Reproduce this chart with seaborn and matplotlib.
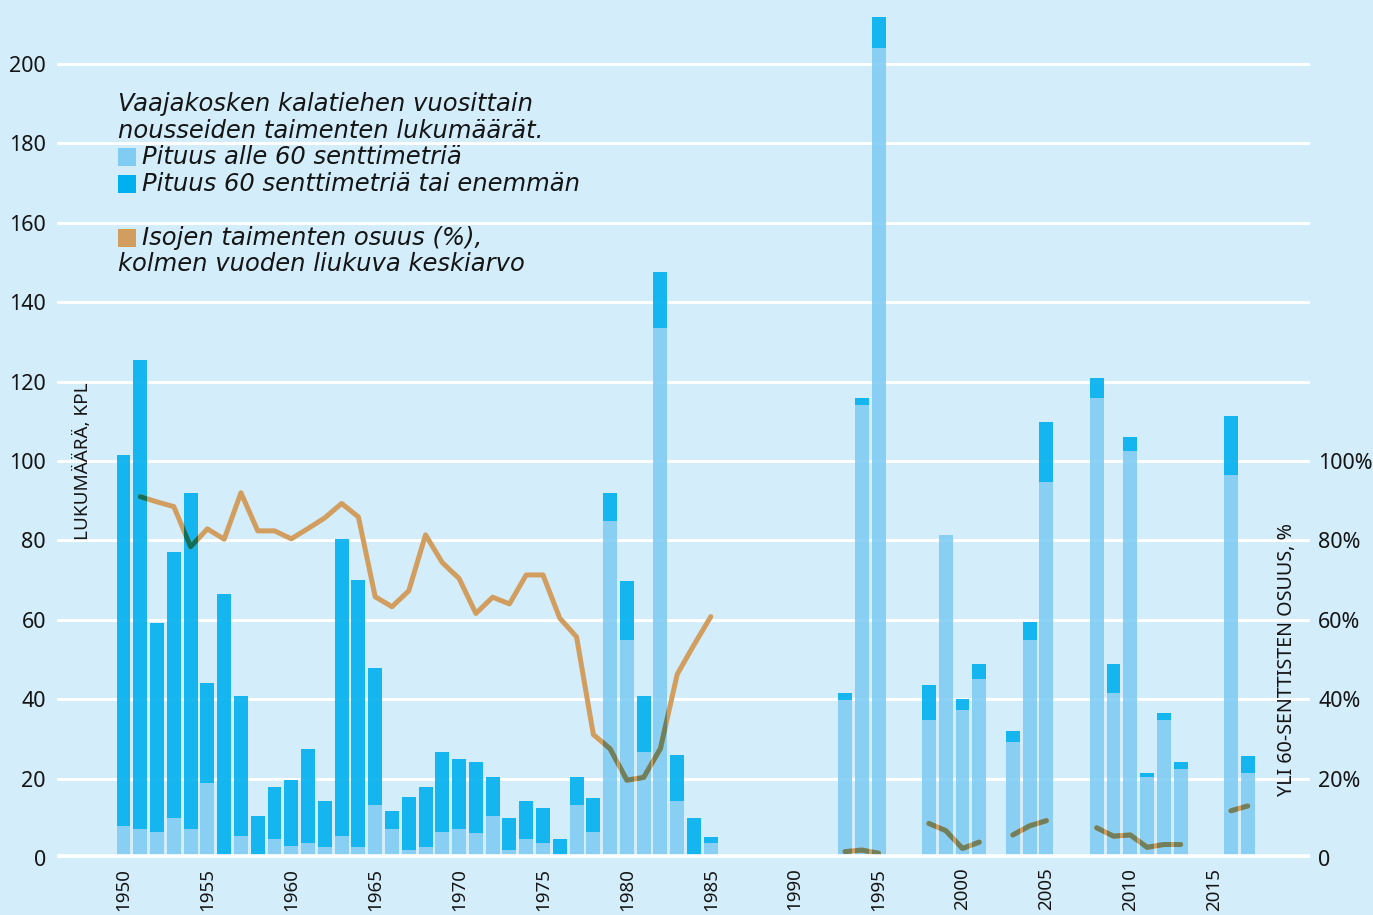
import matplotlib
matplotlib.use("Agg")
import matplotlib.pyplot as plt
import seaborn as sns
import pandas as pd
import numpy as np
from matplotlib.patches import Rectangle
from matplotlib.colors import to_rgb

# --- data ---
years = list(range(1950, 1986)) + [1993, 1994, 1995, 1998, 1999, 2000, 2001,
                                   2003, 2004, 2005, 2008, 2009, 2010, 2011,
                                   2012, 2013, 2016, 2017]

# trout under 60 cm
small = [8.1, 7.3, 6.5, 10.0, 7.3, 18.8, 0.0, 5.5, 0.0, 4.8,
         3.0, 3.8, 2.8, 5.5, 2.8, 13.4, 7.3, 2.0, 2.8, 6.5,
         7.3, 6.4, 10.7, 2.0, 4.8, 3.7, 0.0, 13.4, 6.5, 84.9,
         54.9, 26.7, 133.5, 14.4, 0.0, 3.9,
         39.9, 114.1, 204.0, 34.8, 81.3, 37.3, 45.2,
         29.3, 54.9, 94.6, 115.8, 41.6, 102.5, 20.5,
         34.7, 22.3, 96.5, 21.3]

# trout 60 cm or more
large = [93.4, 118.1, 52.8, 67.0, 84.6, 25.4, 66.4, 35.3, 10.7, 13.1,
         16.6, 23.7, 11.6, 74.9, 67.1, 34.4, 4.5, 13.4, 15.1, 20.3,
         17.6, 17.7, 9.6, 8.0, 9.6, 8.8, 4.7, 6.9, 8.5, 7.0,
         14.9, 14.1, 14.1, 11.5, 10.0, 1.5,
         1.7, 1.7, 7.8, 8.7, 0.0, 2.7, 3.6,
         2.7, 4.5, 15.1, 5.1, 7.2, 3.5, 0.8,
         1.7, 1.8, 14.8, 4.5]

# share of big trout (%), 3-year moving average
share_years = list(range(1951, 1986)) + [1993, 1994, 1995, 1998, 1999, 2000, 2001,
                                         2003, 2004, 2005, 2008, 2009, 2010, 2011,
                                         2012, 2013, 2016, 2017]
share = [91.0, 89.7, 88.5, 78.4, 82.9, 80.3, 92.0, 82.4, 82.4, 80.4,
         83.0, 85.7, 89.3, 85.9, 65.8, 63.3, 67.3, 81.4, 74.4, 70.4,
         61.6, 65.7, 64.0, 71.3, 71.3, 60.4, 55.7, 31.1, 27.5, 19.6,
         20.3, 27.6, 46.3, 53.7, 60.8,
         1.6, 2.0, 1.2, 8.7, 6.9, 2.4, 4.0,
         5.8, 8.1, 9.4, 7.6, 5.5, 5.8, 2.7,
         3.4, 3.4, 11.9, 13.1]

left_ticks = list(range(0, 201, 20))
right_ticks = [0, 20, 40, 60, 80, 100]
right_labels = ["0", "20%", "40%", "60%", "80%", "100%"]
x_ticks = list(range(1950, 2016, 5))

# --- colours ---
bg = "#D3EDFA"
c_small = "#81CCF3"
c_large = "#00AFEF"
c_line = "#D29E60"
txt = "#151515"
bar_alpha = 0.9

counts = pd.DataFrame({
    "year": years * 2,
    "count": small + large,
    "size": ["small"] * len(years) + ["large"] * len(years),
})

seg = np.concatenate([[0], np.cumsum(np.diff(share_years) > 1)])
share_df = pd.DataFrame({"year": share_years, "share": share, "seg": seg})

sns.set_theme(style="white")
plt.rcParams["font.family"] = ["Noto Sans", "DejaVu Sans"]

W, H = 1373, 915
fig = plt.figure(figsize=(W / 100, H / 100), dpi=100, facecolor=bg)
ax = fig.add_axes([57 / W, (H - 858) / H, (1310 - 57) / W, 858 / H])
ax.set_facecolor(bg)

ymax = 858 / 3.97
sns.histplot(data=counts, x="year", weights="count", hue="size",
             hue_order=["large", "small"], multiple="stack", discrete=True,
             shrink=0.83, palette={"small": c_small, "large": c_large},
             alpha=bar_alpha, linewidth=0, legend=False, ax=ax, zorder=2)

sns.lineplot(data=share_df, x="year", y="share", units="seg", estimator=None,
             color=c_line, lw=3.6, ax=ax, zorder=3,
             solid_capstyle="round", solid_joinstyle="round")

# fake "multiply" blending where the line crosses a bar
bg_rgb = np.array(to_rgb(bg))
for p in list(ax.patches):
    if p.get_height() <= 0:
        continue
    fc = np.array(p.get_facecolor()[:3])
    eff = bar_alpha * fc + (1 - bar_alpha) * bg_rgb
    mc = eff * np.array(to_rgb(c_line))
    for s in share_df["seg"].unique():
        d = share_df[share_df["seg"] == s]
        ln, = ax.plot(d["year"], d["share"], color=mc, lw=3.6, zorder=4,
                      solid_capstyle="round", solid_joinstyle="round")
        ln.set_clip_path(p)

ax.set_xlim(1950 - (123.5 - 57) / 16.78, 1950 + (1310 - 123.5) / 16.78)
ax.set_ylim(0, ymax)
ax.set_yticks(left_ticks)
ax.set_yticklabels([str(v) for v in left_ticks])
ax.set_xticks(x_ticks)
ax.set_xticklabels([str(v) for v in x_ticks], rotation=90, va="top", ha="center")
ax.yaxis.grid(True, color="white", lw=2.2, zorder=0)
ax.set_axisbelow(True)
ax.axhline(0, color="white", lw=5.5, zorder=5)
ax.tick_params(axis="y", length=0, pad=8, labelsize=15.5, colors=txt)
ax.tick_params(axis="x", length=0, pad=7, labelsize=13.5, colors=txt)
ax.set_xlabel("")
ax.set_ylabel("")
for sp in ax.spines.values():
    sp.set_visible(False)

ax2 = ax.twinx()
ax2.set_ylim(0, ymax)
ax2.set_yticks(right_ticks)
ax2.set_yticklabels(right_labels)
ax2.tick_params(axis="y", length=0, pad=6, labelsize=15.5, colors=txt)
for sp in ax2.spines.values():
    sp.set_visible(False)
ax2.grid(False)

fig.text(83 / W, 1 - 461 / H, "LUKUMÄÄRÄ, KPL", rotation=90, ha="center",
         va="center", fontsize=13.6, color=txt)
fig.text(1287 / W, 1 - 660 / H, "YLI 60-SENTTISTEN OSUUS, %", rotation=90,
         ha="center", va="center", fontsize=14.2, color=txt)

# legend block
lines = [
    (104, None, "Vaajakosken kalatiehen vuosittain"),
    (131, None, "nousseiden taimenten lukumäärät."),
    (157, c_small, "Pituus alle 60 senttimetriä"),
    (184, c_large, "Pituus 60 senttimetriä tai enemmän"),
    (238, c_line, "Isojen taimenten osuus (%),"),
    (264, None, "kolmen vuoden liukuva keskiarvo"),
]
for y, col, s in lines:
    x0 = 118
    if col is not None:
        fig.patches.append(Rectangle((x0 / W, 1 - (y + 9) / H), 18 / W, 18 / H,
                                     transform=fig.transFigure, facecolor=col,
                                     edgecolor="none"))
        x0 = 142
    fig.text(x0 / W, 1 - y / H, s, ha="left", va="center", fontsize=17.5,
             style="italic", color=txt, family=["DejaVu Sans"])

fig.savefig("out.png", dpi=100, facecolor=bg)
